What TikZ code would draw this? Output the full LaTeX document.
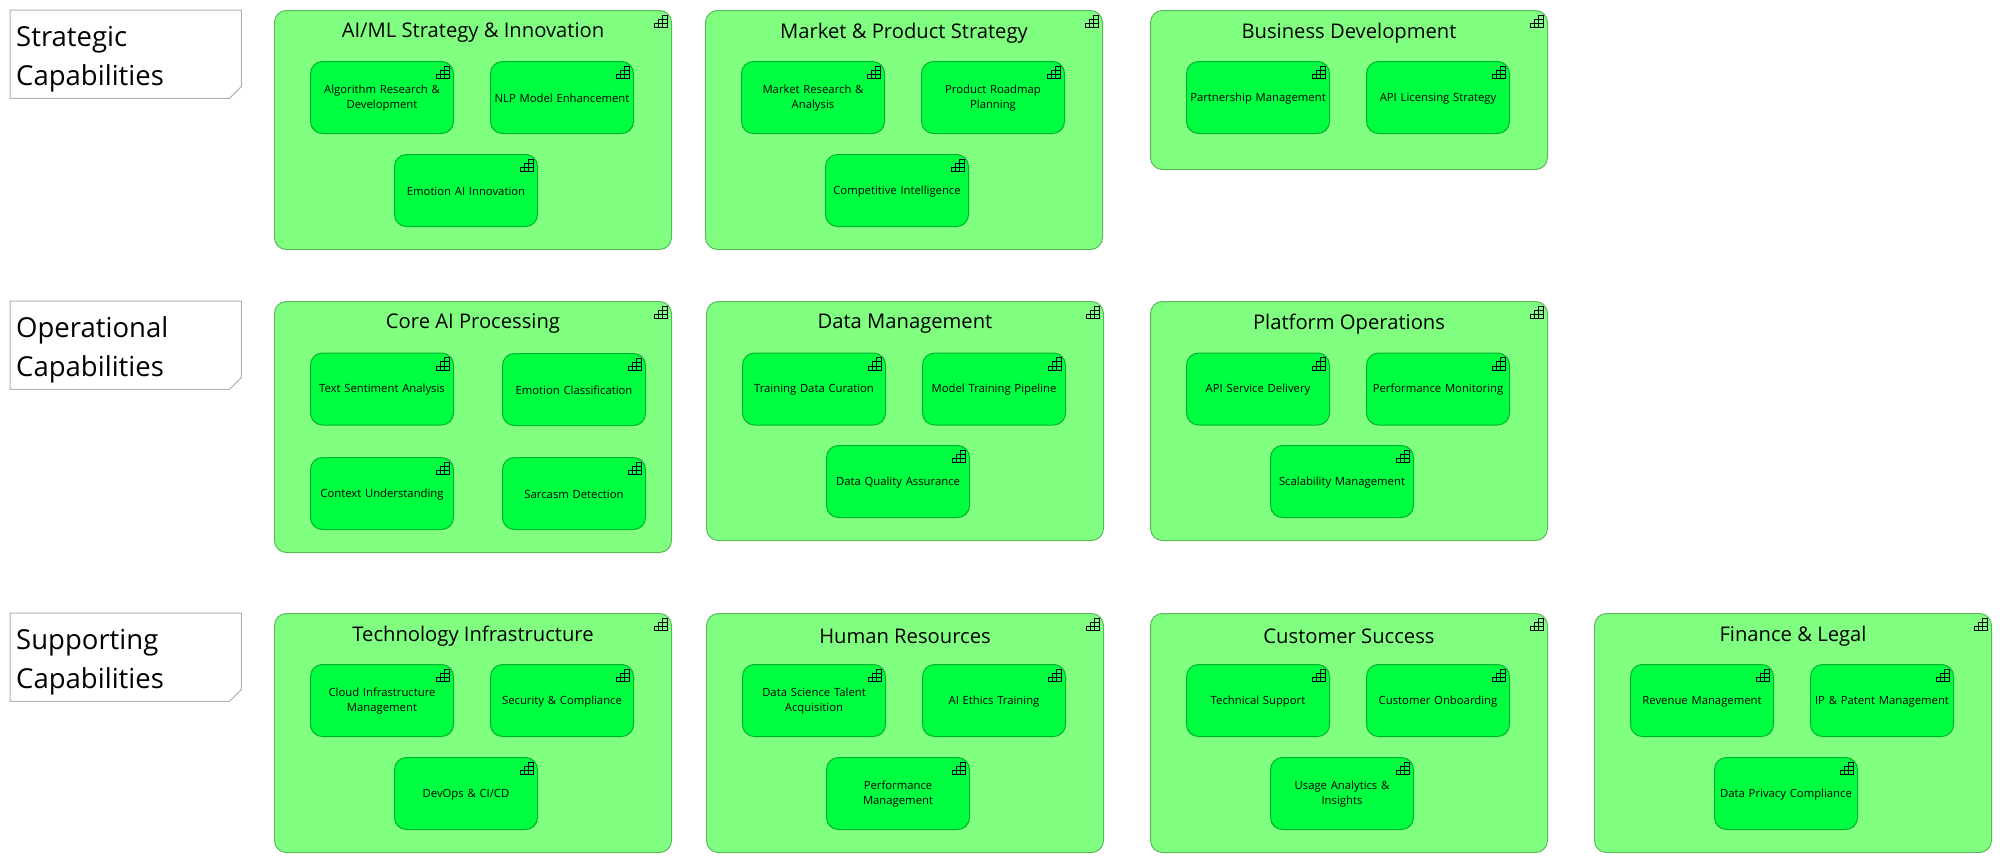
\documentclass[tikz,border=0pt]{standalone}
\usepackage{fontspec}
\setmainfont{Open Sans}

\definecolor{groupfill}{HTML}{80FF80}
\definecolor{groupline}{HTML}{5CB85C}
\definecolor{itemfill}{HTML}{00FF40}
\definecolor{itemline}{HTML}{00B32D}
\definecolor{noteline}{HTML}{B0B0B0}

\tikzset{
  capnote/.style={anchor=north west, minimum width=231pt, minimum height=88pt, text width=219pt, inner xsep=6pt, inner ysep=0pt, align=left, text height=30pt, font=\fontsize{27.5}{39}\selectfont},
  capgroup/.style={rounded corners=12pt, draw=groupline, fill=groupfill, line width=1pt, anchor=north west, minimum width=397pt, minimum height=239pt, inner sep=0pt},
  grouptitle/.style={inner sep=0pt, font=\fontsize{20.2}{24}\selectfont},
  capitem/.style={rounded corners=12pt, draw=itemline, fill=itemfill, line width=1pt, anchor=north west, minimum width=143pt, minimum height=72pt, inner sep=0pt, text width=141pt, align=center, text height=10.5pt, font=\fontsize{11.3}{15}\selectfont},
  capicon/.pic={
    \foreach \cx/\cy in {-9.2/5, -13.4/9.2, -9.2/9.2, -17.6/13.4, -13.4/13.4, -9.2/13.4}
      \draw[black, line width=0.75pt] (\cx, \cy) rectangle ++(4.2, 4.2);
  }
}

\begin{document}
\begin{tikzpicture}[x=1pt, y=-1pt]

\useasboundingbox (0, 0) rectangle (2002, 863);

\node[capnote] (strategic) at (10, 10) {Strategic\\Capabilities};
\node[capnote] (operational) at (10, 301) {Operational\\Capabilities};
\node[capnote] (supporting) at (10, 613) {Supporting\\Capabilities};

\node[capgroup] (aiml) at (274, 10) {};
\node[grouptitle] (aimlT) at ([yshift=-23pt]aiml.north) {AI/ML Strategy \& Innovation};
\node[capitem] (algo) at (310, 61) {Algorithm Research \&\\Development};
\node[capitem] (nlp) at (490, 61) {NLP Model Enhancement};
\node[capitem] (emotionAI) at (394, 154) {Emotion AI Innovation};

\node[capgroup] (market) at (705, 10) {};
\node[grouptitle] (marketT) at ([yshift=-23pt]market.north) {Market \& Product Strategy};
\node[capitem] (research) at (741, 61) {Market Research \&\\Analysis};
\node[capitem] (roadmap) at (921, 61) {Product Roadmap\\Planning};
\node[capitem] (competitive) at (825, 154) {Competitive Intelligence};

\node[capgroup, minimum height=159pt] (business) at (1150, 10) {};
\node[grouptitle] (businessT) at ([yshift=-23pt]business.north) {Business Development};
\node[capitem] (partnership) at (1186, 61) {Partnership Management};
\node[capitem] (licensing) at (1366, 61) {API Licensing Strategy};

\node[capgroup, minimum height=251pt] (core) at (274, 301) {};
\node[grouptitle] (coreT) at ([yshift=-23pt]core.north) {Core AI Processing};
\node[capitem] (sentiment) at (310, 352.5) {Text Sentiment Analysis};
\node[capitem] (classification) at (502, 353) {Emotion Classification};
\node[capitem] (context) at (310, 457) {Context Understanding};
\node[capitem] (sarcasm) at (502, 457) {Sarcasm Detection};

\node[capgroup] (data) at (706, 301) {};
\node[grouptitle] (dataT) at ([yshift=-23pt]data.north) {Data Management};
\node[capitem] (curation) at (742, 352.5) {Training Data Curation};
\node[capitem] (pipeline) at (922, 352.5) {Model Training Pipeline};
\node[capitem] (quality) at (826, 445) {Data Quality Assurance};

\node[capgroup] (platform) at (1150, 301) {};
\node[grouptitle] (platformT) at ([yshift=-23pt]platform.north) {Platform Operations};
\node[capitem] (delivery) at (1186, 352.5) {API Service Delivery};
\node[capitem] (monitoring) at (1366, 352.5) {Performance Monitoring};
\node[capitem] (scalability) at (1270, 445) {Scalability Management};

\node[capgroup] (tech) at (274, 613) {};
\node[grouptitle] (techT) at ([yshift=-23pt]tech.north) {Technology Infrastructure};
\node[capitem] (cloud) at (310, 664) {Cloud Infrastructure\\Management};
\node[capitem] (security) at (490, 664) {Security \& Compliance};
\node[capitem] (devops) at (394, 757) {DevOps \& CI/CD};

\node[capgroup] (human) at (706, 613) {};
\node[grouptitle] (humanT) at ([yshift=-23pt]human.north) {Human Resources};
\node[capitem] (talent) at (742, 664) {Data Science Talent\\Acquisition};
\node[capitem] (ethics) at (922, 664) {AI Ethics Training};
\node[capitem] (performance) at (826, 757) {Performance\\Management};

\node[capgroup] (success) at (1150, 613) {};
\node[grouptitle] (successT) at ([yshift=-23pt]success.north) {Customer Success};
\node[capitem] (support) at (1186, 664) {Technical Support};
\node[capitem] (onboarding) at (1366, 664) {Customer Onboarding};
\node[capitem] (usage) at (1270, 757) {Usage Analytics \&\\Insights};

\node[capgroup] (finance) at (1594, 613) {};
\node[grouptitle] (financeT) at ([yshift=-23pt]finance.north) {Finance \& Legal};
\node[capitem] (revenue) at (1630, 664) {Revenue Management};
\node[capitem] (patent) at (1810, 664) {IP \& Patent Management};
\node[capitem] (privacy) at (1714, 757) {Data Privacy Compliance};

\foreach \n in {strategic, operational, supporting}
  \draw[noteline, line width=1pt] (\n.north west) -- (\n.north east) -- ([yshift=12pt]\n.south east) -- ([xshift=-12pt]\n.south east) -- (\n.south west) -- cycle;

\foreach \n in {aiml, algo, nlp, emotionAI, market, research, roadmap, competitive, business, partnership, licensing, core, sentiment, classification, context, sarcasm, data, curation, pipeline, quality, platform, delivery, monitoring, scalability, tech, cloud, security, devops, human, talent, ethics, performance, success, support, onboarding, usage, finance, revenue, patent, privacy}
  \pic at (\n.north east) {capicon};

\end{tikzpicture}
\end{document}
